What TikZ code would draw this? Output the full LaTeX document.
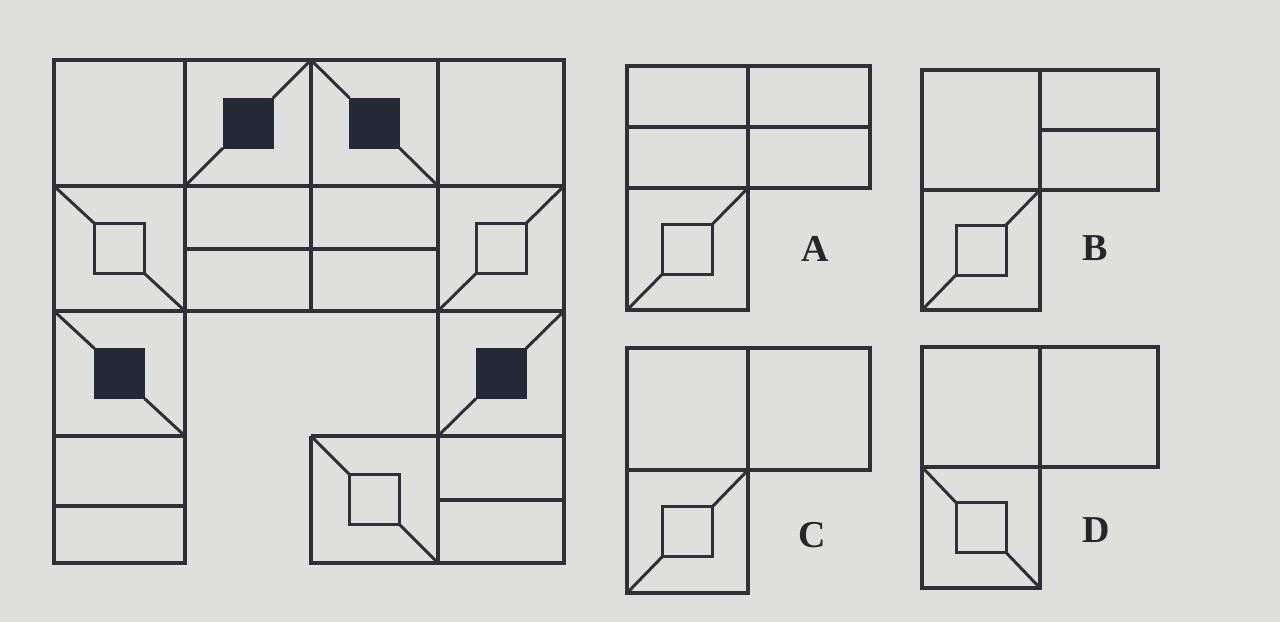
\documentclass[tikz,border=0pt]{standalone}
\usepackage{fontspec}
\setmainfont{Liberation Serif}
\usetikzlibrary{positioning}
\definecolor{paper}{RGB}{223,224,221}
\definecolor{ink}{RGB}{48,48,54}
\definecolor{blk}{RGB}{36,41,54}
\tikzset{
  wall/.style={draw=ink,line width=3.4pt},
  ray/.style={draw=ink,line width=3pt},
  hole/.style={draw=ink,line width=3pt},
  dark/.style={fill=blk,draw=blk,line width=1pt},
  tag/.style={font=\bfseries\fontsize{38}{38}\selectfont,text=ink!80!black,inner sep=0pt},
}
% cell from (#1,#2) to (#3,#4); #5 = 1 for the \ diagonal, -1 for the / one; #6 = style of the square
\newcommand{\motif}[6]{%
  \begin{scope}[shift={({(#1+#3)/2},{(#2+#4)/2})},xscale=#5]
    \draw[ray] ({-(#3-#1)/2},{-(#4-#2)/2}) -- (-25,-25);
    \draw[ray] (25,25) -- ({(#3-#1)/2},{(#4-#2)/2});
    \path[#6] (-25,-25) rectangle (25,25);
  \end{scope}}

\begin{document}
\begin{tikzpicture}[x=1pt,y=-1pt]
  \fill[paper] (0,0) rectangle (1280,622);
  \useasboundingbox (0,0) rectangle (1280,622);

  % the big figure
  \draw[wall] (54,60) rectangle (564,311);
  \draw[wall] (185,60) -- (185,563) -- (54,563) -- (54,311);
  \draw[wall] (311,60) -- (311,311);
  \draw[wall] (438,60) -- (438,563) -- (564,563) -- (564,311);
  \draw[wall] (54,186) -- (564,186);
  \draw[wall] (185,249) -- (438,249);
  \draw[wall] (54,436) -- (185,436);
  \draw[wall] (54,506) -- (185,506);
  \draw[wall] (311,436) -- (564,436);
  \draw[wall] (311,436) -- (311,563) -- (438,563);
  \draw[wall] (438,500) -- (564,500);
  \motif{185}{60}{311}{186}{-1}{dark}
  \motif{311}{60}{438}{186}{1}{dark}
  \motif{54}{186}{185}{311}{1}{hole}
  \motif{438}{186}{564}{311}{-1}{hole}
  \motif{54}{311}{185}{436}{1}{dark}
  \motif{438}{311}{564}{436}{-1}{dark}
  \motif{311}{436}{438}{563}{1}{hole}

  % option A
  \draw[wall] (627,66) rectangle (870,188);
  \draw[wall] (748,66) -- (748,310) -- (627,310) -- (627,188);
  \draw[wall] (627,127) -- (870,127);
  \motif{627}{188}{748}{310}{-1}{hole}
  \node[tag] (labA) at (815,249) {A};

  % option B
  \draw[wall] (922,70) rectangle (1158,190);
  \draw[wall] (1040,70) -- (1040,310) -- (922,310) -- (922,190);
  \draw[wall] (1040,130) -- (1158,130);
  \motif{922}{190}{1040}{310}{-1}{hole}
  \node[tag] (labB) at (1095,248) {B};

  % option C
  \draw[wall] (627,348) rectangle (870,470);
  \draw[wall] (748,348) -- (748,593) -- (627,593) -- (627,470);
  \motif{627}{470}{748}{593}{-1}{hole}
  \node[tag] (labC) at (812,535) {C};

  % option D
  \draw[wall] (922,347) rectangle (1158,467);
  \draw[wall] (1040,347) -- (1040,588) -- (922,588) -- (922,467);
  \motif{922}{467}{1040}{588}{1}{hole}
  \node[tag] (labD) at (1096,530) {D};
\end{tikzpicture}
\end{document}
